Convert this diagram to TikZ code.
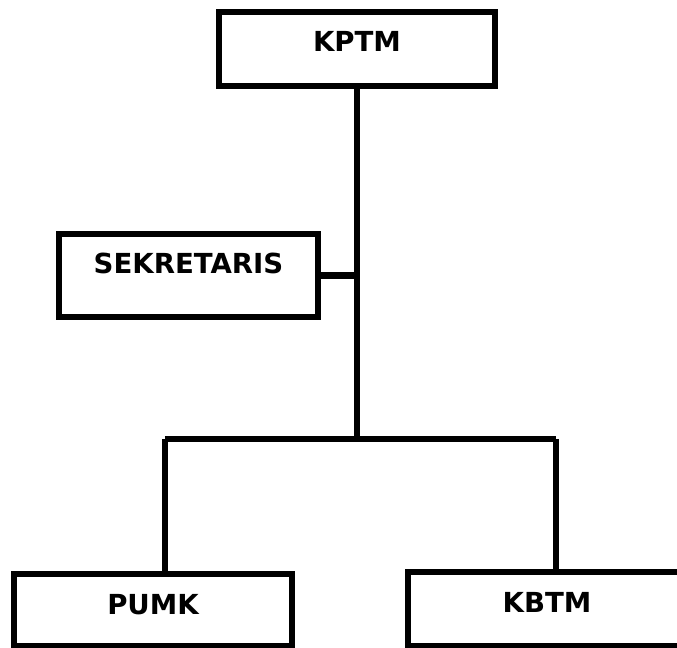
\documentclass[tikz,border=0pt]{standalone}
\usepackage{fontspec}
\setmainfont{DejaVu Sans}
\usepackage{tikz}
\usetikzlibrary{positioning}

\begin{document}
\begin{tikzpicture}[
  x=0.5pt, y=-0.5pt,
  every node/.style={font=\bfseries\fontsize{13.8}{16}\selectfont},
  unit/.style={rectangle, draw=black, fill=white, line width=2.8pt,
    inner sep=0pt, minimum width=139pt, text height=20.5pt, anchor=base},
  link/.style={draw=black, line width=3.2pt},
]
\useasboundingbox (0,0) rectangle (677,648);
\clip (0,0) rectangle (677,648);
\node[unit, minimum width=138pt, text height=20pt, text depth=17pt] (kptm) at (357,52) {KPTM};
\node[unit, minimum width=129.5pt, text height=19.5pt, text depth=22pt] (sek) at (188.5,273) {SEKRETARIS};
\node[unit, text depth=15.5pt] (pumk) at (153,615) {PUMK};
\node[unit, text depth=16.5pt] (kbtm) at (547,613) {KBTM};

\coordinate (hub) at (357,439);
\coordinate (left) at (165,439);
\coordinate (right) at (556,439);

\draw[link] (kptm.south) -- (hub);
\draw[link] (sek.east) -- (sek.east -| hub);
\draw[link] (left) -- (right);
\draw[link] (left) -- (left |- pumk.north);
\draw[link] (right) -- (right |- kbtm.north);
\end{tikzpicture}
\end{document}
